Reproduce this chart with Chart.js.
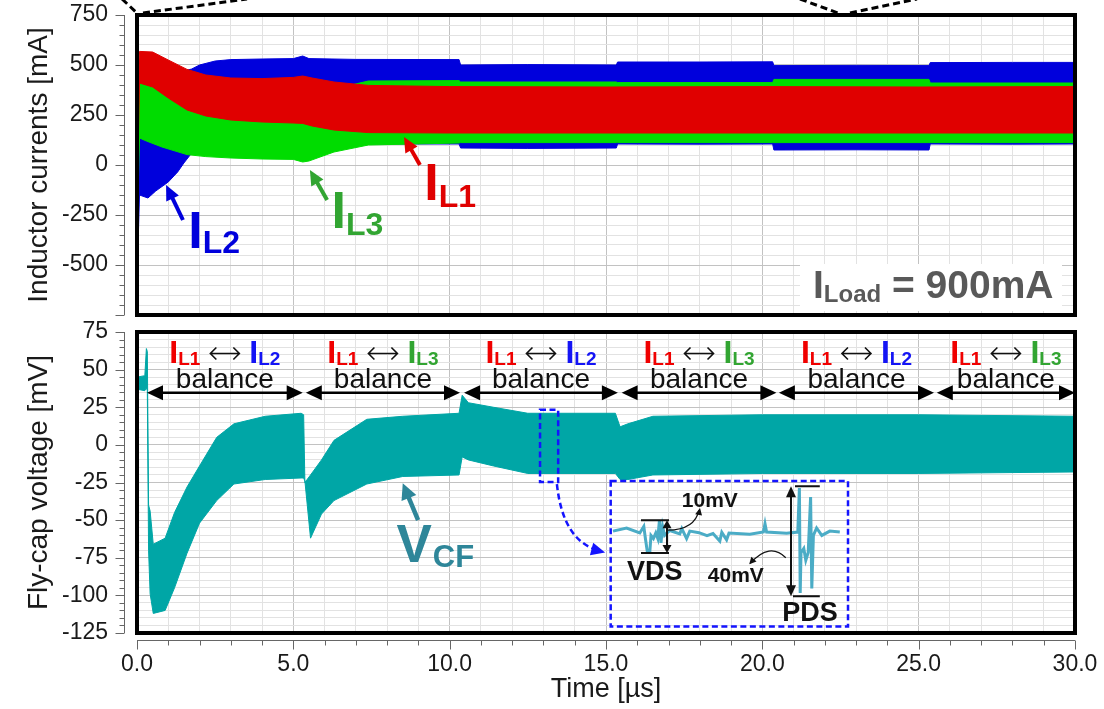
<!DOCTYPE html>
<html lang="en">
<head>
  <meta charset="UTF-8">
  <title>Inductor currents and fly-cap voltage</title>
  <script src="https://cdn.jsdelivr.net/npm/chart.js"></script>
  <style>
    body { margin: 0; background: #fff; }
    #wrap { position: relative; width: 1104px; height: 709px; }
    canvas { position: absolute; left: 0; }
    #top { top: 0; }
    #bottom { top: 318px; }
    #inset { left: 612px; top: 484px; }
  </style>
</head>
<body>
<div id="wrap">
  <canvas id="top" width="1104" height="329"></canvas>
  <canvas id="bottom" width="1104" height="391"></canvas>
  <canvas id="inset" width="234" height="141"></canvas>
</div>
<script>
const FONT = "'Liberation Sans', Arial, sans-serif";

// tick labels
const timeTicks = [0, 5, 10, 15, 20, 25, 30];
const currentTicks = [750, 500, 250, 0, -250, -500];
const voltTicks = [75, 50, 25, 0, -25, -50, -75, -100, -125];

// I_L1 envelope [mA] vs time [us]
const tL1   = [0, 0.08, 0.5, 1.0, 1.6, 2.2, 3.0, 4.0, 5.0, 5.3, 5.6, 6.3, 7.4, 10, 15, 20, 25, 30];
const iL1Hi = [350, 568, 565, 525, 478, 450, 435, 432, 438, 445, 435, 415, 398, 392, 390, 392, 390, 392];
const iL1Lo = [-210, 410, 390, 335, 275, 245, 225, 215, 210, 208, 195, 175, 162, 160, 160, 160, 160, 160];

// I_L2 envelope
const tL2   = [0, 0.08, 0.35, 0.6, 1.0, 1.3, 1.5, 1.75, 2.0, 2.5, 3.0, 4.0, 5.0, 5.3, 5.5, 7.0, 10.3, 10.35, 12.5, 15.33, 15.37, 18, 20.33, 20.37, 23, 25.33, 25.37, 28, 30];
const iL2Hi = [140, 400, 420, 430, 445, 460, 470, 480, 500, 520, 527, 530, 532, 545, 532, 528, 527, 500, 502, 500, 515, 515, 516, 497, 498, 497, 512, 513, 513];
const iL2Lo = [-585, -150, -165, -130, -85, -35, 10, 60, 80, 80, 80, 80, 80, 80, 80, 105, 105, 85, 83, 85, 105, 104, 105, 75, 76, 75, 105, 104, 105];

// I_L3 envelope
const tL3   = [0, 0.08, 0.3, 0.8, 1.6, 2.2, 3.0, 4.0, 5.0, 5.3, 5.5, 6.3, 7.4, 10.3, 10.35, 15.33, 15.37, 20.33, 20.37, 25.33, 25.37, 30];
const iL3Hi = [300, 410, 405, 380, 350, 330, 315, 310, 310, 330, 350, 380, 420, 422, 415, 415, 412, 412, 428, 428, 410, 410];
const iL3Lo = [-350, 135, 120, 90, 52, 42, 35, 30, 28, 15, 20, 65, 100, 110, 112, 112, 112, 112, 112, 112, 112, 112];

// V_CF envelope [mV]
const tCF   = [0, 0.25, 0.3, 0.33, 0.37, 0.42, 0.52, 0.9, 1.2, 1.6, 2.0, 2.55, 3.1, 4.1, 5.25, 5.33, 5.37, 5.55, 5.9, 6.3, 7.35, 8.5, 10.3, 10.4, 10.6, 11.4, 12.5, 15.3, 15.45, 15.7, 16.5, 20, 25, 30];
const vCFHi = [45, 46, 64, 62, -40, -44, -66, -62, -45, -28, -14, 5, 14, 19, 21, 20, -25, -20, -10, 3, 17, 19, 21, 33, 28, 25, 21, 21, 12, 14, 19, 20, 20, 19];
const vCFLo = [37, 36, 38, 36, -70, -99, -112, -110, -95, -72, -52, -37, -26, -23, -22, -22, -24, -62, -46, -37, -26, -21, -20, -8, -10, -14, -19, -19, -23, -23, -20, -19, -19, -18];

// balance intervals [us] and the partner inductor of I_L1
const balanceStart = [0.32, 5.4, 10.46, 15.5, 20.53, 25.58];
const balanceEnd   = [5.3, 10.33, 15.38, 20.45, 25.49, 30];
const balancePair  = ['L2', 'L3', 'L2', 'L3', 'L2', 'L3'];

// zoomed trace in the inset [ns, mV]
const insetNs = [0, 34, 67, 77, 81, 86, 92, 95, 101, 107, 112, 116, 120, 124, 129, 142, 167, 172, 184, 192, 215, 235, 250, 267, 272, 284, 290, 342, 376, 380, 384, 434, 462, 466, 468, 470, 477, 482, 488, 494, 497, 501, 509, 522, 542, 567];
const insetMv = [0, 1, -0.6, 1.5, -2.4, -6.8, -6.8, -1.4, -2.4, -0.6, -2.4, 3.4, -3.8, 1.5, -1.4, 0.2, -0.9, 0.8, -2.4, 0, -0.5, -1.5, -0.8, -3.2, -0.4, -2.8, -0.6, -1, -0.3, 2.4, -0.3, -0.7, -0.3, 13.9, -20, -7, -5.6, -9.4, -6.9, 11, -18.5, -1.4, 1, -1.4, 0, -0.3];

const RED = 'rgb(224,0,0)', GREEN = 'rgb(0,220,0)', BLUE = 'rgb(0,0,220)', TEAL = 'rgb(0,166,166)';
const TXT_RED = 'rgb(240,0,0)', TXT_GREEN = 'rgb(50,165,50)', TXT_BLUE = 'rgb(20,20,245)';
const VCF_COL = 'rgb(46,134,153)', DASH_BLUE = 'rgb(20,20,255)';

function band(t, hi, lo, color, hiIndex) {
  const pts = v => t.map((x, i) => ({ x: x, y: v[i] }));
  return [
    { data: pts(hi), borderColor: color, backgroundColor: color, borderWidth: 1, pointRadius: 0, fill: false },
    { data: pts(lo), borderColor: color, backgroundColor: color, borderWidth: 1, pointRadius: 0, fill: hiIndex }
  ];
}

function gridCol(v, major) {
  return Math.abs(Math.round(v)) % major === 0 ? '#c2c2c2' : '#e2e2e2';
}

function txt(ctx, s, x, y, size, color, bold, align) {
  ctx.font = (bold ? 'bold ' : '') + size + 'px ' + FONT;
  ctx.fillStyle = color;
  ctx.textAlign = align || 'left';
  ctx.textBaseline = 'alphabetic';
  ctx.fillText(s, x, y);
  return ctx.measureText(s).width;
}

function textW(ctx, s, size, bold) {
  ctx.font = (bold ? 'bold ' : '') + size + 'px ' + FONT;
  return ctx.measureText(s).width;
}

// "I" with a subscript, returns total width
function iLabel(ctx, x, y, sub, color, big, small, drop) {
  const w = txt(ctx, 'I', x, y, big, color, true);
  const w2 = txt(ctx, sub, x + w, y + drop, small, color, true);
  return w + w2;
}

function head(ctx, x, y, ang, len, half) {
  ctx.beginPath();
  ctx.moveTo(x, y);
  ctx.lineTo(x - len * Math.cos(ang) + half * Math.sin(ang), y - len * Math.sin(ang) - half * Math.cos(ang));
  ctx.lineTo(x - len * Math.cos(ang) - half * Math.sin(ang), y - len * Math.sin(ang) + half * Math.cos(ang));
  ctx.closePath();
  ctx.fill();
}

function arrow(ctx, x1, y1, x2, y2, color, w, len, half) {
  const ang = Math.atan2(y2 - y1, x2 - x1);
  ctx.strokeStyle = color; ctx.fillStyle = color; ctx.lineWidth = w;
  ctx.beginPath();
  ctx.moveTo(x1, y1);
  ctx.lineTo(x2 - Math.cos(ang) * len * 0.7, y2 - Math.sin(ang) * len * 0.7);
  ctx.stroke();
  head(ctx, x2, y2, ang, len, half);
}

// thin two-way arrow used between the inductor names
function twoWay(ctx, x, y, w) {
  ctx.strokeStyle = '#111'; ctx.lineWidth = 1.6;
  ctx.beginPath();
  ctx.moveTo(x, y); ctx.lineTo(x + w, y);
  ctx.moveTo(x + 6, y - 6); ctx.lineTo(x, y); ctx.lineTo(x + 6, y + 6);
  ctx.moveTo(x + w - 6, y - 6); ctx.lineTo(x + w, y); ctx.lineTo(x + w - 6, y + 6);
  ctx.stroke();
}

// outer axis line with ticks, frame round the plot area
function drawFrame(chart, yMajor, withX) {
  const ctx = chart.ctx, a = chart.chartArea;
  const ys = chart.scales.y, xs = chart.scales.x;
  ctx.save();
  ctx.strokeStyle = '#666';
  ctx.lineWidth = 1;
  ctx.beginPath();
  const ax = a.left - 12.5;
  ctx.moveTo(ax, a.top); ctx.lineTo(ax, a.bottom);
  ys.ticks.forEach(t => {
    const y = Math.round(ys.getPixelForValue(t.value)) + 0.5;
    const len = Math.abs(Math.round(t.value)) % yMajor === 0 ? 9 : 5;
    ctx.moveTo(ax, y); ctx.lineTo(ax - len, y);
  });
  if (withX) {
    const ay = a.bottom + 7.5;
    ctx.moveTo(a.left, ay); ctx.lineTo(a.right, ay);
    xs.ticks.forEach(t => {
      const x = Math.round(xs.getPixelForValue(t.value)) + 0.5;
      const len = Math.round(t.value) % 5 === 0 ? 9 : 5;
      ctx.moveTo(x, ay); ctx.lineTo(x, ay + len);
    });
  }
  ctx.stroke();
  ctx.strokeStyle = '#000';
  ctx.lineWidth = 4;
  ctx.strokeRect(a.left, a.top, a.right - a.left, a.bottom - a.top);
  ctx.restore();
}

const topNotes = {
  id: 'topNotes',
  afterDatasetsDraw(chart) { drawFrame(chart, 250, false); },
  afterDraw(chart) {
    const ctx = chart.ctx, a = chart.chartArea;
    const xs = chart.scales.x, ys = chart.scales.y;
    const P = (t, v) => [xs.getPixelForValue(t), ys.getPixelForValue(v)];
    ctx.save();

    // zoom outline from the overview above
    ctx.strokeStyle = '#000'; ctx.lineWidth = 3; ctx.setLineDash([7, 4]);
    ctx.beginPath();
    ctx.moveTo(a.left - 15, -1); ctx.lineTo(a.left, a.top - 2);
    ctx.moveTo(a.left + 6, a.top - 2); ctx.lineTo(a.left + 110, -1);
    ctx.moveTo(800, -1); ctx.lineTo(838, a.top - 2);
    ctx.moveTo(850, a.top - 2); ctx.lineTo(917, -1);
    ctx.stroke();
    ctx.setLineDash([]);

    // curve labels with pointers
    let p = P(1.64, -415); iLabel(ctx, p[0], p[1], 'L2', BLUE, 52, 32, 5);
    let q = P(1.47, -275), r = P(0.93, -100); arrow(ctx, q[0], q[1], r[0], r[1], BLUE, 4, 15, 7);
    p = P(6.22, -315); iLabel(ctx, p[0], p[1], 'L3', TXT_GREEN, 52, 32, 7);
    q = P(6.08, -175); r = P(5.53, -25); arrow(ctx, q[0], q[1], r[0], r[1], TXT_GREEN, 4, 15, 7);
    p = P(9.19, -175); iLabel(ctx, p[0], p[1], 'L1', RED, 52, 32, 7);
    q = P(9.05, 0); r = P(8.54, 140); arrow(ctx, q[0], q[1], r[0], r[1], RED, 4, 15, 7);

    // load current tag
    ctx.fillStyle = '#fff';
    ctx.fillRect(a.right - 275, a.bottom - 51, 262, 47);
    const gx = a.right - 262, gy = a.bottom - 17;
    const w = iLabel(ctx, gx, gy, 'Load', '#595959', 39, 24, 4);
    txt(ctx, ' = 900mA', gx + w, gy, 39, '#595959', true);
    ctx.restore();
  }
};

const bottomNotes = {
  id: 'bottomNotes',
  afterDatasetsDraw(chart) { drawFrame(chart, 25, true); },
  afterDraw(chart) {
    const ctx = chart.ctx;
    const xs = chart.scales.x, ys = chart.scales.y;
    const P = (t, v) => [xs.getPixelForValue(t), ys.getPixelForValue(v)];
    ctx.save();

    // balance intervals
    const yArr = ys.getPixelForValue(34.7), yBal = ys.getPixelForValue(38), yLab = ys.getPixelForValue(54.7);
    balanceStart.forEach((t0, i) => {
      const x0 = xs.getPixelForValue(t0), x1 = xs.getPixelForValue(balanceEnd[i]);
      ctx.fillStyle = '#000'; ctx.strokeStyle = '#000'; ctx.lineWidth = 2.5;
      ctx.beginPath(); ctx.moveTo(x0 + 10, yArr); ctx.lineTo(x1 - 10, yArr); ctx.stroke();
      head(ctx, x0, yArr, Math.PI, 16, 7.5);
      head(ctx, x1, yArr, 0, 16, 7.5);
      const mid = (x0 + x1) / 2;
      txt(ctx, 'balance', mid, yBal, 28, '#111', false, 'center');

      const sub = balancePair[i];
      const col2 = sub === 'L2' ? TXT_BLUE : TXT_GREEN;
      const wI = textW(ctx, 'I', 32, true), wS1 = textW(ctx, 'L1', 19, true), wS2 = textW(ctx, sub, 19, true);
      const wA = 29, gap = 10;
      const total = wI + wS1 + gap + wA + gap + wI + wS2;
      let x = mid - total / 2;
      x += iLabel(ctx, x, yLab, 'L1', TXT_RED, 32, 19, 2) + gap;
      twoWay(ctx, x, yLab - 9, wA);
      x += wA + gap;
      iLabel(ctx, x, yLab, sub, col2, 32, 19, 2);
    });

    // V_CF label
    let p = P(8.3, -78); const wv = txt(ctx, 'V', p[0], p[1], 53, VCF_COL, true);
    txt(ctx, 'CF', p[0] + wv + 1, p[1] + 5, 31, VCF_COL, true);
    let q = P(8.99, -50), r = P(8.5, -25.5); arrow(ctx, q[0], q[1], r[0], r[1], VCF_COL, 4.5, 16, 8);

    // zoom window and inset box
    ctx.strokeStyle = DASH_BLUE; ctx.fillStyle = DASH_BLUE; ctx.lineWidth = 2.5; ctx.setLineDash([6, 3.5]);
    let a0 = P(12.89, 23.3), a1 = P(13.47, -24.7);
    ctx.strokeRect(a0[0], a0[1], a1[0] - a0[0], a1[1] - a0[1]);
    a0 = P(15.15, -24); a1 = P(22.74, -120.7);
    ctx.strokeRect(a0[0], a0[1], a1[0] - a0[0], a1[1] - a0[1]);
    const c0 = P(13.43, -26), cc = P(13.62, -64), c1 = P(14.78, -70.2);
    ctx.beginPath(); ctx.moveTo(c0[0], c0[1]); ctx.quadraticCurveTo(cc[0], cc[1], c1[0], c1[1]); ctx.stroke();
    ctx.setLineDash([]);
    head(ctx, c1[0] + 6, c1[1] + 2, Math.atan2(c1[1] - cc[1], c1[0] - cc[0]), 14, 6.5);
    ctx.restore();
  }
};

// inset marks: VDS / PDS spans and their labels
const insetNotes = {
  id: 'insetNotes',
  afterDraw(chart) {
    const ctx = chart.ctx;
    const xs = chart.scales.x, ys = chart.scales.y;
    const P = (t, v) => [xs.getPixelForValue(t), ys.getPixelForValue(v)];
    ctx.save();
    ctx.strokeStyle = '#111'; ctx.fillStyle = '#111'; ctx.lineWidth = 2;
    // VDS
    let a = P(70, 3.5), b = P(120, -7.1), c = P(135, 0);
    ctx.beginPath();
    ctx.moveTo(a[0], a[1]); ctx.lineTo(b[0] + 8, a[1]);
    ctx.moveTo(a[0], b[1]); ctx.lineTo(b[0] + 8, b[1]);
    ctx.moveTo(c[0], a[1] + 6); ctx.lineTo(c[0], b[1] - 6);
    ctx.stroke();
    head(ctx, c[0], a[1], -Math.PI / 2, 8, 4.5);
    head(ctx, c[0], b[1], Math.PI / 2, 8, 4.5);
    // PDS
    a = P(455, 14.5); b = P(517, -21); c = P(445, 0);
    ctx.beginPath();
    ctx.moveTo(a[0], a[1]); ctx.lineTo(b[0], a[1]);
    ctx.moveTo(a[0] - 2, b[1]); ctx.lineTo(b[0], b[1]);
    ctx.moveTo(c[0], a[1] + 8); ctx.lineTo(c[0], b[1] - 8);
    ctx.stroke();
    head(ctx, c[0], a[1], -Math.PI / 2, 11, 5);
    head(ctx, c[0], b[1], Math.PI / 2, 11, 5);

    // callout curves
    ctx.lineWidth = 1.2;
    let s = P(137, 0.3), k = P(205, 0.5), e = P(215, 6.8);
    ctx.beginPath(); ctx.moveTo(s[0], s[1]); ctx.quadraticCurveTo(k[0], k[1], e[0], e[1]); ctx.stroke();
    head(ctx, e[0] + 1, e[1] - 2, Math.atan2(e[1] - k[1], e[0] - k[0]), 7, 3.5);
    s = P(432, -8.6); k = P(392, -3.4); e = P(343, -10.4);
    ctx.beginPath(); ctx.moveTo(s[0], s[1]); ctx.quadraticCurveTo(k[0], k[1], e[0], e[1]); ctx.stroke();
    head(ctx, e[0] - 1, e[1] + 1, Math.atan2(e[1] - k[1], e[0] - k[0]), 7, 3.5);

    let t = P(172, 7.7); txt(ctx, '10mV', t[0], t[1], 21, '#111', true);
    t = P(35, -15.8); txt(ctx, 'VDS', t[0], t[1], 27, '#111', true);
    t = P(237, -16.5); txt(ctx, '40mV', t[0], t[1], 21, '#111', true);
    t = P(423, -29); txt(ctx, 'PDS', t[0], t[1], 27, '#111', true);
    ctx.restore();
  }
};

Chart.defaults.animation = false;
Chart.defaults.events = [];
Chart.defaults.font.family = FONT;

new Chart(document.getElementById('top'), {
  type: 'line',
  data: {
    datasets: [
      ...band(tL1, iL1Hi, iL1Lo, RED, 0),
      ...band(tL3, iL3Hi, iL3Lo, GREEN, 2),
      ...band(tL2, iL2Hi, iL2Lo, BLUE, 4)
    ]
  },
  options: {
    responsive: false,
    layout: { padding: { left: 0, right: 29, top: 15, bottom: 14 } },
    plugins: { legend: { display: false }, tooltip: { enabled: false } },
    scales: {
      x: {
        type: 'linear', min: 0, max: 30,
        ticks: { display: false, stepSize: 1, autoSkip: false },
        grid: { drawTicks: false, color: c => gridCol(c.tick.value, 5) },
        border: { display: false },
        afterFit: s => { s.height = 0; }
      },
      y: {
        type: 'linear', min: -750, max: 750,
        ticks: {
          stepSize: 50, autoSkip: false, maxTicksLimit: 100, padding: 0,
          color: '#1a1a1a', font: { size: 23 },
          callback: v => currentTicks.includes(v) ? String(v) : ''
        },
        grid: { drawTicks: true, tickLength: 29, tickColor: 'rgba(0,0,0,0)', color: c => gridCol(c.tick.value, 250) },
        border: { display: false },
        title: {
          display: true, text: 'Inductor currents [mA]', color: '#1a1a1a',
          font: { size: 28 }, padding: { top: 22, bottom: 0 }
        },
        afterFit: s => { s.width = 137; }
      }
    }
  },
  plugins: [topNotes]
});

new Chart(document.getElementById('bottom'), {
  type: 'line',
  data: { datasets: band(tCF, vCFHi, vCFLo, TEAL, 0) },
  options: {
    responsive: false,
    layout: { padding: { left: 0, right: 29, top: 14, bottom: 0 } },
    plugins: { legend: { display: false }, tooltip: { enabled: false } },
    scales: {
      x: {
        type: 'linear', min: 0, max: 30,
        ticks: {
          stepSize: 1, autoSkip: false, maxRotation: 0, padding: 0,
          color: '#1a1a1a', font: { size: 23 },
          callback: v => timeTicks.includes(v) ? v.toFixed(1) : ''
        },
        grid: { drawTicks: true, tickLength: 18, tickColor: 'rgba(0,0,0,0)', color: c => gridCol(c.tick.value, 5) },
        border: { display: false },
        title: {
          display: true, text: 'Time [\u00b5s]', color: '#1a1a1a',
          font: { size: 27 }, padding: { top: 0, bottom: 3 }
        },
        afterFit: s => { s.height = 76; }
      },
      y: {
        type: 'linear', min: -125, max: 75,
        ticks: {
          stepSize: 5, autoSkip: false, maxTicksLimit: 100, padding: 0,
          color: '#1a1a1a', font: { size: 23 },
          callback: v => voltTicks.includes(v) ? String(v) : ''
        },
        grid: { drawTicks: true, tickLength: 29, tickColor: 'rgba(0,0,0,0)', color: c => gridCol(c.tick.value, 25) },
        border: { display: false },
        title: {
          display: true, text: 'Fly-cap voltage [mV]', color: '#1a1a1a',
          font: { size: 28 }, padding: { top: 22, bottom: 0 }
        },
        afterFit: s => { s.width = 137; }
      }
    }
  },
  plugins: [bottomNotes]
});

new Chart(document.getElementById('inset'), {
  type: 'line',
  data: {
    datasets: [{
      data: insetNs.map((x, i) => ({ x: x, y: insetMv[i] })),
      borderColor: 'rgb(75,172,198)', borderWidth: 3, pointRadius: 0, fill: false
    }]
  },
  options: {
    responsive: false,
    layout: { padding: 0 },
    plugins: { legend: { display: false }, tooltip: { enabled: false } },
    scales: {
      x: { type: 'linear', display: false, min: -2.5, max: 582.5 },
      y: { type: 'linear', display: false, min: -30.3, max: 15.2 }
    }
  },
  plugins: [insetNotes]
});
</script>
</body>
</html>
